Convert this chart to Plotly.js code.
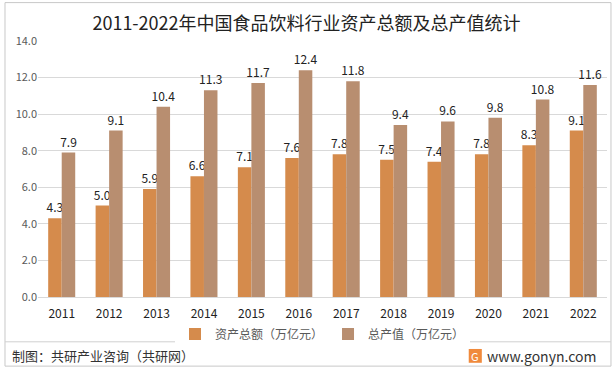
<!DOCTYPE html>
<html><head><meta charset="utf-8">
<script src="https://cdn.plot.ly/plotly-3.0.1.min.js"></script>
<style>body{margin:0;padding:0;}#chart{width:613px;height:369px;}</style>
</head><body><div id="chart"></div>
<script>
const years = ['2011','2012','2013','2014','2015','2016','2017','2018','2019','2020','2021','2022'];
const assets = [4.3,5.0,5.9,6.6,7.1,7.6,7.8,7.5,7.4,7.8,8.3,9.1];
const output = [7.9,9.1,10.4,11.3,11.7,12.4,11.8,9.4,9.6,9.8,10.8,11.6];
const seriesNames = ['资产总额（万亿元）','总产值（万亿元）'];
const yTicks = [0,2,4,6,8,10,12,14];

const font = "'Noto Sans CJK SC', 'Microsoft YaHei', sans-serif";
const traces = [
  {type:'bar', x:years, y:assets, name:seriesNames[0], marker:{color:'#D58B4C'},
   text:assets.map(v=>v.toFixed(1)), textposition:'outside', cliponaxis:false, constraintext:'none',
   textfont:{size:12,color:'#222',family:font}},
  {type:'bar', x:years, y:output, name:seriesNames[1], marker:{color:'#B88E70'},
   text:output.map(v=>v.toFixed(1)), textposition:'outside', cliponaxis:false, constraintext:'none',
   textfont:{size:12,color:'#222',family:font}}
];
const layout = {
  width:613, height:369,
  margin:{l:38,r:6,t:41,b:72},
  paper_bgcolor:'#fff', plot_bgcolor:'#fff',
  font:{family:font,color:'#595959',size:11},
  title:{text:'2011-2022年中国食品饮料行业资产总额及总产值统计', x:0.5, xanchor:'center', y:0.935, yanchor:'middle',
    font:{size:18,color:'#222',family:font}},
  barmode:'group', bargap:0.43, bargroupgap:0,
  xaxis:{type:'category', tickfont:{size:12,color:'#222'}, showline:true, linecolor:'#d9d9d9', ticks:'', showgrid:false,
    ticklabelstandoff:6},
  yaxis:{range:[0,14], tickvals:yTicks, ticktext:yTicks.map(v=>v.toFixed(1)), gridcolor:'#d9d9d9', zeroline:false,
    tickfont:{size:11,color:'#595959'}, ticks:'', ticklen:0, showline:false},
  showlegend:true,
  legend:{orientation:'h', x:0.5, xanchor:'center', y:-0.145, yanchor:'middle', font:{size:12,color:'#595959'},
    itemwidth:30, traceorder:'normal'},
  shapes:[
    {type:'rect', xref:'paper', yref:'paper', x0:-0.058, x1:1.007, y0:-0.27, y1:1.15, line:{color:'#c8c8c8',width:1}},
    {type:'line', xref:'paper', yref:'paper', x0:-0.058, x1:1.007, y0:-0.175, y1:-0.175, line:{color:'#d0d0d0',width:1}},
    {type:'rect', xref:'paper', yref:'paper', x0:0.757, x1:0.78, y0:-0.257, y1:-0.203, fillcolor:'#F08A3C', line:{width:0}}
  ],
  annotations:[
    {text:'制图：共研产业咨询（共研网）', xref:'paper', yref:'paper', x:-0.05, y:-0.23, xanchor:'left', yanchor:'middle', showarrow:false,
      font:{size:13,color:'#333',family:font}},
    {text:'G', xref:'paper', yref:'paper', x:0.7685, y:-0.23, xanchor:'center', yanchor:'middle', showarrow:false,
      font:{size:11,color:'#fff',family:font}},
    {text:'www.gonyn.com', xref:'paper', yref:'paper', x:0.985, y:-0.23, xanchor:'right', yanchor:'middle', showarrow:false,
      font:{size:14,color:'#333',family:font}}
  ]
};
Plotly.newPlot('chart', traces, layout, {displayModeBar:false});
</script></body></html>
